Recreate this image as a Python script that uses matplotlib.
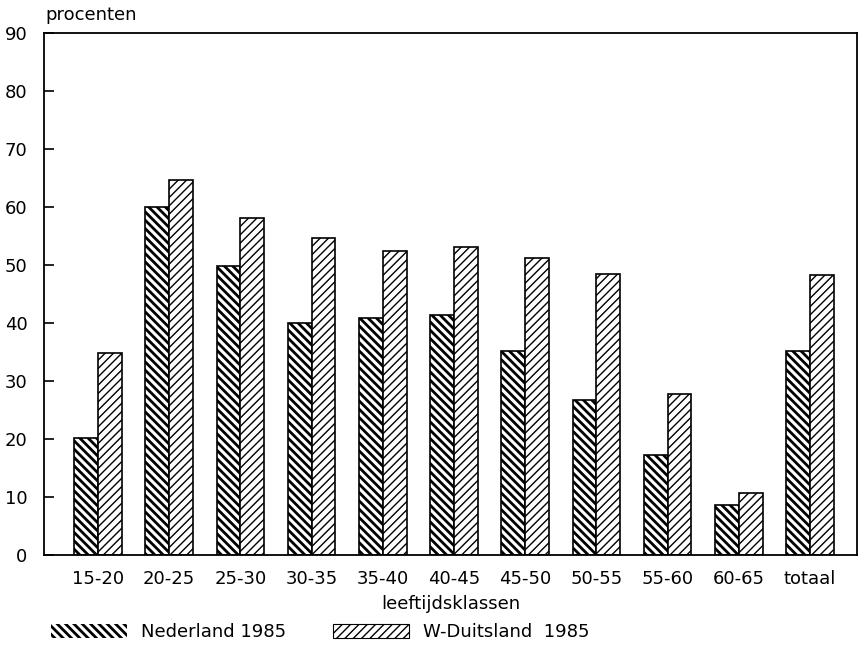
import matplotlib
matplotlib.use('Agg')
import matplotlib.pyplot as plt
import numpy as np
from matplotlib.patches import Patch

# age classes and percentages
klassen = ["15-20", "20-25", "25-30", "30-35", "35-40", "40-45",
           "45-50", "50-55", "55-60", "60-65", "totaal"]
nederland = [20.1, 60, 49.8, 40, 40.9, 41.4, 35.1, 26.8, 17.3, 8.6, 35.1]
wduitsland = [34.9, 64.7, 58.2, 54.6, 52.5, 53.1, 51.2, 48.5, 27.8, 10.7, 48.3]
yticks = [0, 10, 20, 30, 40, 50, 60, 70, 80, 90]

HATCH_NL = '\\\\\\\\'
HATCH_WD = '////'
LW_NL = 2.0
LW_WD = 1.0


def set_hlw(patches, lw):
    for p in patches:
        if hasattr(p, 'set_hatch_linewidth'):
            p.set_hatch_linewidth(lw)


def main():
    plt.rcParams['font.family'] = 'DejaVu Sans'
    fig = plt.figure(figsize=(8.64, 6.52), dpi=100)
    ax = fig.add_axes([0.051, 0.149, 0.941, 0.800])

    x = np.arange(len(klassen))
    w = 0.334

    with plt.rc_context({'hatch.linewidth': LW_NL}):
        b1 = ax.bar(x - w / 2, nederland, w, color='white', edgecolor='black',
                    hatch=HATCH_NL, linewidth=1.2)
    with plt.rc_context({'hatch.linewidth': LW_WD}):
        b2 = ax.bar(x + w / 2, wduitsland, w, color='white', edgecolor='black',
                    hatch=HATCH_WD, linewidth=1.2)
    set_hlw(b1, LW_NL)
    set_hlw(b2, LW_WD)

    ax.set_xlim(-0.758, 10.66)
    ax.set_ylim(0, 90)
    ax.set_yticks(yticks)
    ax.set_xticks(x)
    ax.set_xticklabels(klassen, fontsize=13)
    ax.tick_params(axis='y', direction='in', length=7, width=1.2,
                   labelsize=13, pad=12)
    ax.tick_params(axis='x', length=0, pad=11)
    for s in ax.spines.values():
        s.set_linewidth(1.3)

    fig.text(0.052, 0.963, "procenten", fontsize=13, ha='left', va='bottom')
    ax.set_xlabel("leeftijdsklassen", fontsize=13, labelpad=5)

    h1 = Patch(facecolor='white', edgecolor='white', hatch=HATCH_NL,
               linewidth=0.0, label='Nederland 1985')
    h2 = Patch(facecolor='white', edgecolor='black', hatch=HATCH_WD,
               linewidth=0.8, label='W-Duitsland  1985')
    leg = fig.legend(handles=[h1, h2], loc='lower left',
                     bbox_to_anchor=(0.04, -0.008),
                     ncol=2, frameon=False, fontsize=13, handlelength=4.2,
                     handleheight=0.8, handletextpad=0.8, columnspacing=2.6)
    hs = leg.legend_handles
    set_hlw([hs[0]], LW_NL)
    set_hlw([hs[1]], LW_WD)
    hs[0].set_edgecolor('black')
    hs[0].set_linewidth(0)

    fig.savefig("out.png", dpi=100)


if __name__ == '__main__':
    main()
